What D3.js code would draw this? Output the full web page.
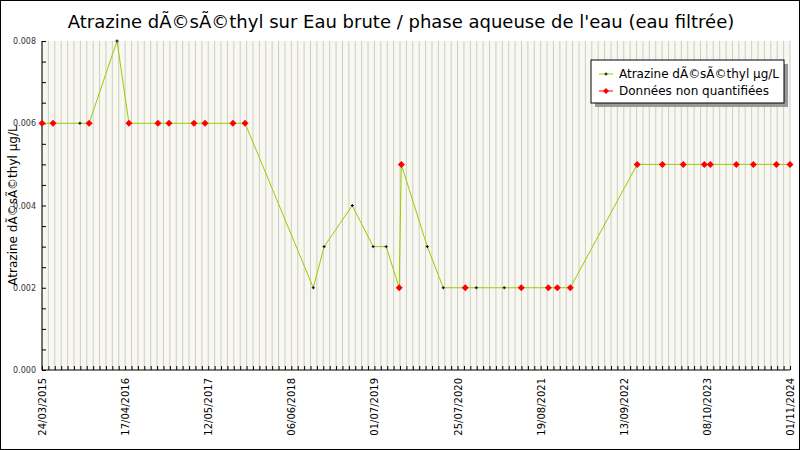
<!DOCTYPE html>
<html><head><meta charset="utf-8">
<script src="https://cdn.jsdelivr.net/npm/d3@7"></script>
<style>body{margin:0;}svg{font-family:"DejaVu Sans",sans-serif;}</style>
</head><body><script>
const dates = ["2015-03-24","2015-05-15","2015-09-18","2015-10-31","2016-03-10","2016-05-05","2016-09-18","2016-11-09","2017-03-06","2017-04-27","2017-09-05","2017-11-01","2018-09-17","2018-11-07","2019-03-19","2019-06-25","2019-08-25","2019-10-25","2019-11-04","2020-03-05","2020-05-19","2020-08-30","2020-10-21","2021-03-01","2021-05-20","2021-09-24","2021-11-05","2022-01-05","2022-11-15","2023-03-13","2023-06-19","2023-09-26","2023-10-24","2024-02-23","2024-05-13","2024-08-29","2024-11-01"];
const values = [0.006,0.006,0.006,0.006,0.008,0.006,0.006,0.006,0.006,0.006,0.006,0.006,0.002,0.003,0.004,0.003,0.003,0.002,0.005,0.003,0.002,0.002,0.002,0.002,0.002,0.002,0.002,0.002,0.005,0.005,0.005,0.005,0.005,0.005,0.005,0.005,0.005];
// 1 = non quantifiée
const nq = [1,1,0,1,0,1,1,1,1,1,1,1,0,0,0,0,0,1,1,0,0,1,0,0,1,1,1,1,1,1,1,1,1,1,1,1,1];
const yTicks = [0,0.002,0.004,0.006,0.008];

const w = 800, h = 450, m = {l:42, r:10, t:41, b:80};
const parse = d3.timeParse("%Y-%m-%d");
const data = dates.map((d,i)=>({date:parse(d), v:values[i], nq:nq[i]}));
const start = parse("2015-03-24"), end = parse("2024-11-01");

const svg = d3.select("body").append("svg").attr("width",w).attr("height",h);
svg.append("rect").attr("x",0.5).attr("y",0.5).attr("width",w-1).attr("height",h-1).attr("fill","white").attr("stroke","black");

const x = d3.scaleTime().domain([start,end]).range([m.l,w-m.r]);
const y = d3.scaleLinear().domain([0,0.008]).range([h-m.b,m.t]);

svg.append("rect").attr("x",m.l).attr("y",m.t).attr("width",w-m.r-m.l).attr("height",h-m.b-m.t).attr("fill","#f8f8f0");

const grid = d3.range(0,118).map(i=>d3.timeDay.offset(start,i*30)).filter(d=>d<=end);
const labels = d3.range(0,10).map(i=>d3.timeDay.offset(start,i*390));

svg.append("g").selectAll("line").data(grid).join("line")
  .attr("x1",d=>x(d)).attr("x2",d=>x(d)).attr("y1",m.t).attr("y2",h-m.b)
  .attr("stroke","#cccccc").attr("stroke-width",1);

const fmt = d3.timeFormat("%d/%m/%Y");
const xa = svg.append("g").attr("transform",`translate(0,${h-m.b})`)
  .call(d3.axisBottom(x).tickValues(grid).tickSize(-4).tickFormat(""));
xa.select(".domain").remove();
svg.append("g").selectAll("text").data(labels).join("text")
  .attr("transform",d=>`translate(${x(d)+4},${h-m.b+8}) rotate(-90)`)
  .attr("text-anchor","end").attr("font-size",10).text(d=>fmt(d));

const ya = svg.append("g").attr("transform",`translate(${m.l},0)`)
  .call(d3.axisLeft(y).tickValues(d3.range(0,0.00801,0.0005)).tickSize(-4).tickFormat(""));
ya.select(".domain").remove();
svg.append("g").selectAll("text").data(yTicks).join("text")
  .attr("x",m.l-6).attr("y",d=>y(d)+3).attr("text-anchor","end").attr("font-size",8).attr("fill","#333")
  .text(d=>d.toFixed(3));

svg.append("line").attr("x1",m.l).attr("x2",m.l).attr("y1",m.t).attr("y2",h-m.b).attr("stroke","black");
svg.append("line").attr("x1",m.l).attr("x2",w-m.r).attr("y1",h-m.b).attr("y2",h-m.b).attr("stroke","black");

svg.append("path").datum(data).attr("fill","none").attr("stroke","#99cc00").attr("stroke-width",1)
  .attr("d",d3.line().x(d=>x(d.date)).y(d=>y(d.v)));

const pts = svg.append("g").selectAll("g").data(data).join("g")
  .attr("transform",d=>`translate(${x(d.date)},${y(d.v)})`);
pts.filter(d=>!d.nq).append("path").attr("d","M-1.5,0H1.5M0,-1.5V1.5").attr("stroke","black");
pts.filter(d=>d.nq).append("path").attr("d","M0,-3.5L3.5,0L0,3.5L-3.5,0Z").attr("fill","red");

svg.append("text").attr("x",401).attr("y",28).attr("text-anchor","middle").attr("font-size",18)
  .text("Atrazine dÃ©sÃ©thyl sur Eau brute / phase aqueuse de l'eau (eau filtrée)");
svg.append("text").attr("transform",`translate(17,${(m.t+h-m.b)/2}) rotate(-90)`).attr("text-anchor","middle")
  .attr("font-size",12).text("Atrazine dÃ©sÃ©thyl µg/L");

const lg = svg.append("g").attr("transform","translate(591,60)");
lg.append("rect").attr("x",4).attr("y",4).attr("width",193).attr("height",43).attr("fill","#999");
lg.append("rect").attr("width",193).attr("height",43).attr("fill","white").attr("stroke","black");
lg.append("line").attr("x1",8).attr("x2",22).attr("y1",14).attr("y2",14).attr("stroke","#99cc00");
lg.append("path").attr("d","M13.5,14H16.5M15,12.5V15.5").attr("stroke","black");
lg.append("line").attr("x1",8).attr("x2",22).attr("y1",31).attr("y2",31).attr("stroke","red");
lg.append("path").attr("d","M15,28L18,31L15,34L12,31Z").attr("fill","red");
lg.append("text").attr("x",28).attr("y",18).attr("font-size",12).attr("textLength",160).text("Atrazine dÃ©sÃ©thyl µg/L");
lg.append("text").attr("x",28).attr("y",35).attr("font-size",12).attr("textLength",150).text("Données non quantifiées");
</script></body></html>
